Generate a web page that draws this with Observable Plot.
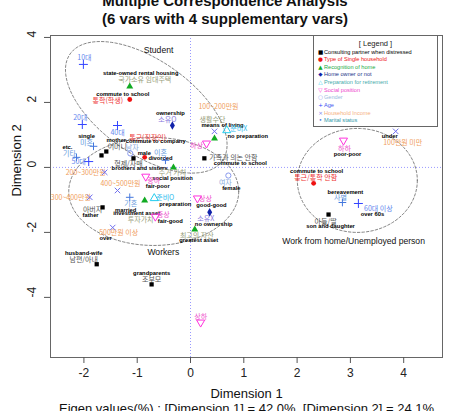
<!DOCTYPE html>
<html><head><meta charset="utf-8">
<script src="https://cdn.jsdelivr.net/npm/d3@7"></script>
<script src="https://cdn.jsdelivr.net/npm/@observablehq/plot@0.6"></script>
<style>
body{margin:0;background:#fff;}
#wrap{position:relative;width:450px;height:411px;overflow:hidden;font-family:"Liberation Sans",Arial,sans-serif;}
#chart{position:absolute;left:0;top:0;}
#title{position:absolute;left:0;top:-8px;width:450px;text-align:center;font-weight:bold;font-size:15px;line-height:18px;color:#111;}
#legend{position:absolute;left:313px;top:35px;width:125px;height:92px;border:1px solid #666;background:#fff;box-sizing:border-box;}
#legend .t{position:absolute;left:0;width:100%;text-align:center;top:3px;font-size:7.5px;color:#222;}
#legend .e{position:absolute;left:4px;font-size:5.6px;white-space:nowrap;line-height:7px;}
#legend .e span{display:inline-block;width:5px;text-align:center;margin-right:1px;font-family:"DejaVu Sans";}
</style></head>
<body>
<div id="wrap"><div id="chart"></div><div id="title">Multiple Correspondence Analysis<br>(6 vars with 4 supplementary vars)</div><div id="legend"></div></div>
<script>
// ---------------- data (MCA coordinates) ----------------
const consulting = [
  {kor:"어머니", eng:"mother", x:-1.58, y:0.49},
  {kor:"", eng:"", x:-1.67, y:0.37},
  {kor:"형제/자매", eng:"brothers and sisters", x:-1.07, y:0.28},
  {kor:"가족과 의논 안함", eng:"commute to school", x:0.26, y:0.28},
  {kor:"아버지", eng:"father", x:-1.65, y:-1.23},
  {kor:"남편/아내", eng:"husband-wife", x:-1.76, y:-2.98},
  {kor:"조부모", eng:"grandparents", x:-0.73, y:-3.60},
  {kor:"아들/딸", eng:"son and daughter", x:2.59, y:-1.45}
];
const householdType = [
  {kor:"통학(학생)", eng:"commute to school", x:-1.14, y:2.09},
  {kor:"통근(직장인)", eng:"commute to company", x:-0.86, y:0.31},
  {kor:"통근/통학 안함", eng:"commute to school", x:2.31, y:-0.49}
];
const homeRecognition = [
  {kor:"국가소유 임대주택", eng:"state-owned rental housing", x:-1.14, y:2.49},
  {kor:"생활수단", eng:"means of living", x:0.45, y:0.89},
  {kor:"주거 가치", eng:"social position", x:-0.32, y:0.00},
  {kor:"투자가치", eng:"investment asset", x:-0.86, y:-1.02},
  {kor:"최고의 자산", eng:"greatest asset", x:0.08, y:-1.91}
];
const homeOwner = [
  {kor:"소유O", eng:"ownership", x:-0.34, y:1.29},
  {kor:"소유X", eng:"no ownership", x:0.36, y:-1.38}
];
const retirementPrep = [
  {kor:"준비X", eng:"no preparation", x:0.68, y:1.14},
  {kor:"준비O", eng:"preparation", x:-0.68, y:-0.95}
];
const socialPosition = [
  {kor:"하하", eng:"poor-poor", x:2.87, y:0.83},
  {kor:"중하", eng:"fair-poor", x:-0.84, y:-0.28},
  {kor:"중상", eng:"fair-good", x:-0.66, y:-1.51},
  {kor:"상상", eng:"good-good", x:0.13, y:-0.95},
  {kor:"하상", eng:"", x:0.30, y:0.74},
  {kor:"상하", eng:"", x:0.19, y:-4.77}
];
const gender = [
  {kor:"남자", eng:"male", x:-1.13, y:0.43},
  {kor:"여자", eng:"female", x:0.71, y:-0.25}
];
const age = [
  {kor:"10대", eng:"", x:-2.01, y:3.17},
  {kor:"20대", eng:"", x:-2.03, y:1.32},
  {kor:"40대", eng:"", x:-1.37, y:1.29},
  {kor:"50대", eng:"", x:-1.91, y:0.18},
  {kor:"60대 이상", eng:"over 60s", x:3.15, y:-1.11}
];
const income = [
  {kor:"100만원 미만", eng:"under", x:3.85, y:1.11},
  {kor:"100~200만원", eng:"", x:0.45, y:1.11},
  {kor:"200~300만원", eng:"", x:-1.61, y:-0.15},
  {kor:"300~400만원", eng:"", x:-1.89, y:-0.92},
  {kor:"400~500만원", eng:"", x:-1.37, y:-0.71},
  {kor:"500만원 이상", eng:"over", x:-1.46, y:-1.85}
];
const marital = [
  {kor:"미혼", eng:"single", x:-1.82, y:0.65},
  {kor:"기타", eng:"etc.", x:-2.14, y:0.31},
  {kor:"이혼", eng:"divorced", x:-0.47, y:0.22},
  {kor:"기혼", eng:"married", x:-1.14, y:-0.92},
  {kor:"사별", eng:"bereavement", x:2.85, y:-1.08}
];
const groups = [
  {name:"Student", x:-0.60, y:3.60},
  {name:"Workers", x:-0.51, y:-2.62},
  {name:"Work from home/Unemployed person", x:3.06, y:-2.28}
];
const xTicks = [-2,-1,0,1,2,3,4];
const yTicks = [-4,-2,0,2,4];
const legendNames = ["Consulting partner when distressed","Type of Single household","Recognition of home","Home owner or not","Preparation for retirement","Social position","Gender","Age","Household Income","Marital status"];

// ---------------- layout / style ----------------
const xDomain = [-2.627, 4.728], yDomain = [-5.85, 4.06];
const W = 450, H = 411, mT = 35, mB = 54, mL = 50, mR = 8;
const kx = (W - mL - mR) / (xDomain[1] - xDomain[0]);
const ky = (H - mT - mB) / (yDomain[1] - yDomain[0]);
// label nudges in px: [korDx, korDy, engDx, engDy]
const nudge = {
  "어머니":[11,-5,10,-11], "형제/자매":[-5,5,6,10], "가족과 의논 안함":[29,-1,36,5], "아버지":[-10,2,-12,8],
  "남편/아내":[-13,-4,-13,-11], "조부모":[0,-5,0,-11], "아들/딸":[-3,7,2,12],
  "통학(학생)":[-22,1,-7,-5], "통근(직장인)":[3,-20,11,-16], "통근/통학 안함":[2,-6,3,-12],
  "국가소유 임대주택":[15,-7,11,-13], "생활수단":[-2,-19,8,-13], "주거 가치":[-1,5,-1,11], "투자가치":[-4,19,-8,13], "최고의 자산":[2,6,4,11],
  "소유O":[-5,-6,-2,-12], "소유X":[-4,6,4,12],
  "준비X":[12,-2,21,6], "준비O":[11,-1,21,6],
  "하하":[1,8,4,14], "중하":[8,4,12,10], "중상":[8,-2,15,5], "상상":[8,0,14,7], "하상":[-10,2,0,0], "상하":[0,-6,0,0],
  "남자":[2,-6,14,0], "여자":[-3,7,3,13],
  "10대":[1,-7,0,0], "20대":[-2,-7,0,0], "40대":[0,7,0,0], "50대":[-10,0,0,0], "60대 이상":[20,5,14,11],
  "100만원 미만":[7,11,-6,5], "100~200만원":[4,-25,0,0], "200~300만원":[-19,0,0,0], "300~400만원":[-19,0,0,0], "400~500만원":[3,-7,0,0], "500만원 이상":[6,5,-7,11],
  "미혼":[-7,-4,-7,-10], "기타":[-7,-4,-9,-10], "이혼":[-5,-8,-5,-2], "기혼":[1,6,-4,13], "사별":[-2,-5,3,-10]
};
const triDown = {draw(c, size){ const y = -Math.sqrt(size/(Math.sqrt(3)*3)); c.moveTo(0,-2*y); c.lineTo(-Math.sqrt(3)*y, y); c.lineTo(Math.sqrt(3)*y, y); c.closePath(); }};
const cats = [
  {data:consulting, symbol:"square", fill:"#000", stroke:"none", r:2.4, kc:"#555", lc:"#000", lsym:"■"},
  {data:householdType, symbol:"circle", fill:"#ee1111", stroke:"none", r:2.4, kc:"#ee3333", lc:"#ee1111", lsym:"●"},
  {data:homeRecognition, symbol:"triangle", fill:"#11aa22", stroke:"none", r:2.6, kc:"#98a07c", lc:"#22aa44", lsym:"▲"},
  {data:homeOwner, symbol:"diamond", fill:"#1122aa", stroke:"none", r:2.6, kc:"#8877dd", lc:"#223388", lsym:"◆"},
  {data:retirementPrep, symbol:"triangle", fill:"none", stroke:"#22ccee", r:3, kc:"#33bbee", lc:"#44aaaa", lsym:"△"},
  {data:socialPosition, symbol:triDown, fill:"none", stroke:"#ff33dd", r:3, kc:"#ee55cc", lc:"#ee44cc", lsym:"▽"},
  {data:gender, symbol:"circle", fill:"none", stroke:"#8899ee", r:2.6, kc:"#88aadd", lc:"#99bbdd", lsym:"○"},
  {data:age, symbol:"plus", fill:"none", stroke:"#3344ff", r:3, kc:"#6688ee", lc:"#4455ee", lsym:"+"},
  {data:income, symbol:"times", fill:"none", stroke:"#7070ee", r:2.6, kc:"#f0a060", lc:"#f5b080", lsym:"×"},
  {data:marital, symbol:"plus", fill:"none", stroke:"#4477dd", r:2.6, kc:"#6699dd", lc:"#3399aa", lsym:"•"}
];
const ellipses = [
  {cx:-0.83, cy:1.85, a:93, b:47, theta:35},
  {cx:-0.69, cy:-0.74, a:85, b:54, theta:0},
  {cx:3.13, cy:-0.40, a:60, b:52, theta:0}
];
const ellPts = [];
ellipses.forEach((e, i) => {
  const th = e.theta * Math.PI/180;
  for (let t = 0; t <= 360; t += 3) {
    const r = t*Math.PI/180;
    const ex = e.a*Math.cos(r)*Math.cos(th) - e.b*Math.sin(r)*Math.sin(th);
    const ey = e.a*Math.cos(r)*Math.sin(th) + e.b*Math.sin(r)*Math.cos(th);
    ellPts.push({g:i, x:e.cx + ex/kx, y:e.cy - ey/ky});
  }
});

const marks = [
  Plot.ruleX([0], {stroke:"#9999ff", strokeDasharray:"1,2"}),
  Plot.ruleY([0], {stroke:"#9999ff", strokeDasharray:"1,2"}),
  Plot.line(ellPts, {x:"x", y:"y", z:"g", stroke:"#666", strokeWidth:0.8, strokeDasharray:"2.5,2"}),
  Plot.frame({stroke:"#666"}),
  Plot.axisX({ticks:xTicks, tickSize:6, tickPadding:5, fontSize:12, tickFormat:d=>String(d), label:null, stroke:"#555", color:"#222"}),
  Plot.axisY({ticks:yTicks, tickSize:6, tickFormat:()=>"", label:null, stroke:"#555"}),
  Plot.text(yTicks, {y:d=>d, text:d=>String(d), frameAnchor:"left", dx:-18, rotate:-90, fontSize:12, fill:"#222"}),
  Plot.text(["Dimension 1"], {frameAnchor:"bottom", dy:40, fontSize:13, fill:"#111"}),
  Plot.text(["Eigen values(%) : [Dimension 1] = 42.0%, [Dimension 2] = 24.1%"], {frameAnchor:"bottom", dy:55, fontSize:13, fill:"#111"}),
  Plot.text(["Dimension 2"], {frameAnchor:"left", dx:-34, rotate:-90, fontSize:13, fill:"#111"}),
  Plot.text(groups, {x:"x", y:"y", text:"name", fontSize:8.6, fill:"#111"})
];
cats.forEach(c => {
  const kl = [], el = [];
  c.data.forEach(p => {
    const n = nudge[p.kor] || [0,-6,0,-12];
    if (p.kor) kl.push({x:p.x + n[0]/kx, y:p.y - n[1]/ky, t:p.kor});
    if (p.eng) el.push({x:p.x + n[2]/kx, y:p.y - n[3]/ky, t:p.eng});
  });
  marks.push(Plot.text(kl, {x:"x", y:"y", text:"t", fill:c.kc, fontSize:7, fontFamily:"Noto Sans CJK KR"}));
  marks.push(Plot.text(el, {x:"x", y:"y", text:"t", fill:"#000", fontSize:5.8, fontWeight:"bold", fontFamily:"Liberation Sans"}));
});
cats.forEach(c => {
  marks.push(Plot.dot(c.data, {x:"x", y:"y", symbol:c.symbol, r:c.r, fill:c.fill, stroke:c.stroke, strokeWidth:1}));
});

const chart = Plot.plot({
  width:W, height:H, marginTop:mT, marginBottom:mB, marginLeft:mL, marginRight:mR,
  style:{fontFamily:"Liberation Sans, Arial, sans-serif", background:"#fff"},
  x:{domain:xDomain}, y:{domain:yDomain},
  marks
});
document.getElementById("chart").appendChild(chart);

// legend
const lg = document.getElementById("legend");
const t = document.createElement("div"); t.className="t"; t.textContent="[ Legend ]"; lg.appendChild(t);
const ys = [14,21,29,36,44,52,59,67,75,82];
cats.forEach((c, i) => {
  const e = document.createElement("div"); e.className="e"; e.style.top = (ys[i]-1)+"px"; e.style.color = c.lc;
  const s = document.createElement("span"); s.textContent = c.lsym; s.style.color = i===0 ? "#000" : (c.fill!=="none" ? c.fill : c.stroke);
  e.appendChild(s); e.appendChild(document.createTextNode(legendNames[i])); lg.appendChild(e);
});
</script>
</body></html>
